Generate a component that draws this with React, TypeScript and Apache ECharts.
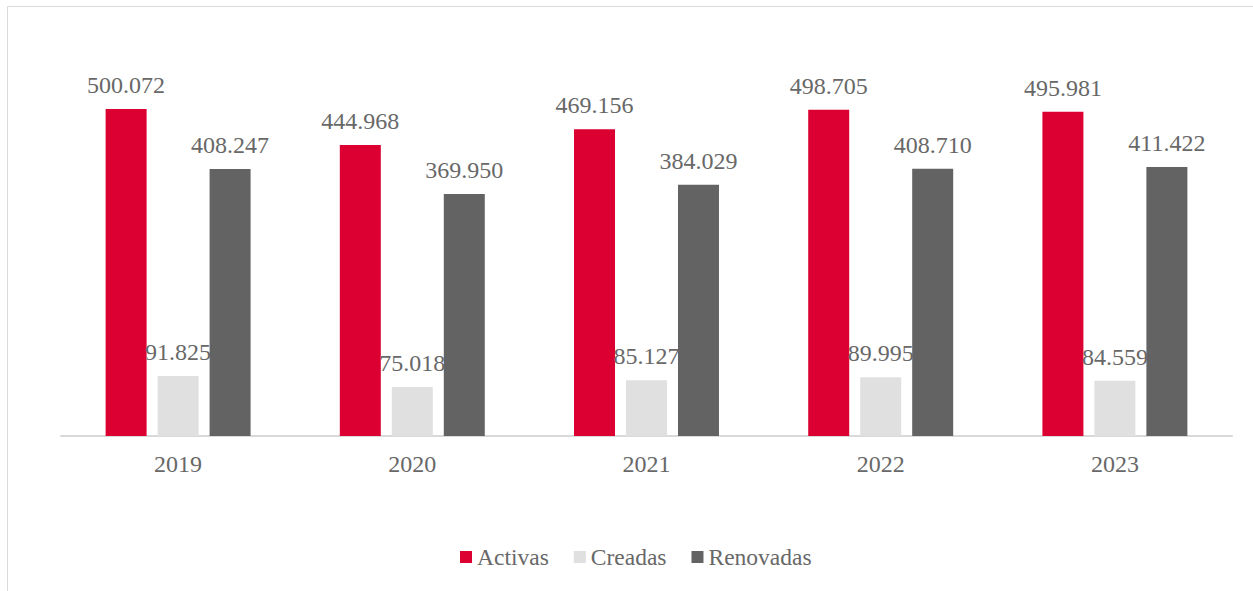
import React, { useEffect, useRef } from "react";
import * as echarts from "echarts";

const categories = ["2019", "2020", "2021", "2022", "2023"];
const activas = [500072, 444968, 469156, 498705, 495981];
const creadas = [91825, 75018, 85127, 89995, 84559];
const renovadas = [408247, 369950, 384029, 408710, 411422];

const fmt = (v: number) => {
  const s = String(Math.round(v));
  return s.replace(/\B(?=(\d{3})+(?!\d))/g, ".");
};

const FONT = "'Liberation Serif', 'Times New Roman', serif";
const TXT = "#686868";

export default function App() {
  const ref = useRef<HTMLDivElement>(null);
  useEffect(() => {
    if (!ref.current) return;
    const chart = echarts.init(ref.current, null, { renderer: "svg" });
    const label = {
      show: true,
      position: "top" as const,
      distance: 12,
      color: TXT,
      fontFamily: FONT,
      fontSize: 24,
      formatter: (p: any) => fmt(p.value),
    };
    const mk = (name: string, data: number[], color: string) => ({
      name,
      type: "bar",
      data,
      barWidth: 41,
      barGap: "26.8%",
      itemStyle: { color },
      label,
    });
    chart.setOption({
      animation: false,
      textStyle: { fontFamily: FONT },
      graphic: [
        {
          type: "rect",
          shape: { x: 7.5, y: 6.5, width: 1300, height: 700 },
          style: { fill: "none", stroke: "#D9D9D9", lineWidth: 1 },
          silent: true,
        },
      ],
      grid: { left: 61, right: 21, top: 43.6, bottom: 155, containLabel: false },
      legend: {
        bottom: 17,
        left: 455,
        itemWidth: 12,
        itemHeight: 12,
        itemGap: 25,
        icon: "rect",
        textStyle: { color: TXT, fontFamily: FONT, fontSize: 23.5 },
        data: ["Activas", "Creadas", "Renovadas"],
      },
      xAxis: {
        type: "category",
        data: categories,
        axisLine: { show: true, lineStyle: { color: "#D9D9D9", width: 2 } },
        axisTick: { show: false },
        axisLabel: { color: TXT, fontFamily: FONT, fontSize: 24, margin: 16 },
      },
      yAxis: {
        type: "value",
        min: 0,
        max: 600000,
        show: false,
        splitLine: { show: false },
      },
      series: [
        mk("Activas", activas, "#DC0032"),
        mk("Creadas", creadas, "#E0E0E0"),
        mk("Renovadas", renovadas, "#636363"),
      ],
    });
    return () => chart.dispose();
  }, []);
  return (
    <div
      ref={ref}
      style={{ position: "absolute", left: 0, top: 0, width: 1253, height: 591, background: "#fff" }}
    />
  );
}
